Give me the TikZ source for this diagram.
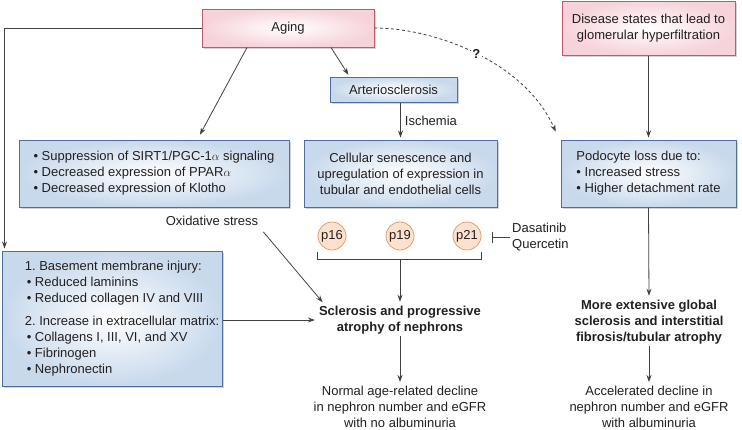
\documentclass[tikz,border=0pt]{standalone}
\usepackage{fontspec}
\setmainfont{Liberation Sans}
\usetikzlibrary{arrows.meta,shadows}
\definecolor{agingline}{HTML}{C25A6E}
\definecolor{agingfill}{HTML}{F6D3DA}
\definecolor{boxline}{HTML}{4F6E9E}
\definecolor{boxfill}{HTML}{C8D9EC}
\definecolor{pline}{HTML}{E39E6E}
\definecolor{pfill}{HTML}{FCE2CE}
\definecolor{ink}{HTML}{231F20}

\begin{document}
\begin{tikzpicture}[x=1pt,y=-1pt,font=\fontsize{13}{16}\selectfont,text=ink]
                \tikzset{redbox/.style={draw=agingline, line width=1pt, inner color=white, outer color=agingfill,
                drop shadow={shadow xshift=1.5pt, shadow yshift=-1.5pt, opacity=.35}, align=center, inner sep=0pt},
                 bluebox/.style={draw=boxline, line width=1pt, inner color=white, outer color=boxfill,
                drop shadow={shadow xshift=1.5pt, shadow yshift=-1.5pt, opacity=.35}, inner sep=0pt},
                 pcircle/.style={circle, draw=pline, line width=.8pt, fill=pfill, minimum size=28pt, inner sep=0pt},
                 plain/.style={align=center, inner sep=2pt},
                 link/.style={draw=ink!85, line width=.8pt, -{Stealth[length=7pt,width=5pt]}, shorten >=2pt}}

                \useasboundingbox (0,0) rectangle (742,429);

                \node[redbox, minimum width=172pt, minimum height=38pt] (aging) at (288,28) {Aging};
                \node[redbox, minimum width=173pt, minimum height=54pt] (disease) at (648.5,28) {Disease states that lead to\\glomerular hyperfiltration};
                \node[bluebox, minimum width=127pt, minimum height=25pt] (arterio) at (393.5,89.5) {Arteriosclerosis};

                \node[bluebox, align=left, minimum width=270pt, minimum height=67pt] (sirt) at (154,173.5)
                    {\textbullet\ Suppression of SIRT1/PGC-1$\alpha$ signaling\\
                     \textbullet\ Decreased expression of PPAR$\alpha$\\
                     \textbullet\ Decreased expression of Klotho};
                \node[bluebox, align=center, minimum width=193pt, minimum height=67pt] (senes) at (400.5,173.5)
                    {Cellular senescence and\\upregulation of expression in\\tubular and endothelial cells};
                \node[bluebox, align=left, minimum width=175pt, minimum height=67pt] (podo) at (648.5,173.5)
                    {Podocyte loss due to:\\
                     \textbullet\ Increased stress\\
                     \textbullet\ Higher detachment rate};
                \node[bluebox, align=left, minimum width=220pt, minimum height=135pt] (matrix) at (112,318.5)
                    {\hspace*{20pt}1.\ Basement membrane injury:\\
                     \hspace*{22pt}\textbullet\ Reduced laminins\\
                     \hspace*{22pt}\textbullet\ Reduced collagen IV and VIII\\[7pt]
                     \hspace*{20pt}2.\ Increase in extracellular matrix:\\
                     \hspace*{22pt}\textbullet\ Collagens I, III, VI, and XV\\
                     \hspace*{22pt}\textbullet\ Fibrinogen\\
                     \hspace*{22pt}\textbullet\ Nephronectin};

                \node[pcircle] (p16) at (332,236) {p16};
                \node[pcircle] (p19) at (400,236) {p19};
                \node[pcircle] (p21) at (467,236) {p21};

                \node[plain] (oxid) at (212,221) {Oxidative stress};
                \node[plain, anchor=west, align=left] (dasa) at (510,237.5) {Dasatinib\\Quercetin};
                \node[plain, font=\fontsize{13}{16}\selectfont\bfseries] (scler) at (400,320) {Sclerosis and progressive\\atrophy of nephrons};
                \node[plain] (normal) at (400,407) {Normal age-related decline\\in nephron number and eGFR\\with no albuminuria};
                \node[plain, font=\fontsize{13}{16}\selectfont\bfseries] (more) at (649,322) {More extensive global\\sclerosis and interstitial\\fibrosis/tubular atrophy};
                \node[plain] (accel) at (649,407) {Accelerated decline in\\nephron number and eGFR\\with albuminuria};

                \coordinate (brL) at ([yshift=-23pt]p16.west);
                \coordinate (brR) at ([yshift=-23pt]p21.east);

                \draw[link] (aging.west) -| ([xshift=3]matrix.north west);
                \draw[link] ([xshift=-41]aging.south) -- ([xshift=45,yshift=3]sirt.north);
                \draw[link] ([xshift=43]aging.south) -- ([xshift=20]arterio.north west);
                \draw[link] (senes.north |- arterio.south) -- node[right, inner sep=4pt] {Ischemia} (senes.north);
                \draw[link, dashed, dash pattern=on 3pt off 2.5pt] (aging.east) .. controls (435,28) and (525,62) .. ([xshift=-4,yshift=6]podo.north west)
                    node[pos=.5, fill=white, inner sep=1.5pt, font=\fontsize{13}{16}\selectfont\bfseries] (qmark) {?};
                \draw[link] (disease.south) -- (podo.north);
                \draw[draw=ink!85, line width=.8pt] ([yshift=-16pt]p16.west) -- (brL) -- (brR) -- ([yshift=-16pt]p21.east);
                \draw[link] (p19.south |- brL) -- (scler.north);
                \draw[draw=ink!85, line width=.8pt, -{Bar[width=11pt]}] (dasa.west) -- ([xshift=11]p21.east |- dasa.west);
                \draw[link] ([xshift=3,yshift=-4]oxid.south east) -- ([xshift=7]scler.north west);
                \draw[link] (matrix.east |- scler.west) -- (scler.west);
                \draw[link] (scler.south) -- (normal.north);
                \draw[link] (podo.south) -- (more.north);
                \draw[link] (more.south) -- (accel.north);
            \end{tikzpicture}
\end{document}
